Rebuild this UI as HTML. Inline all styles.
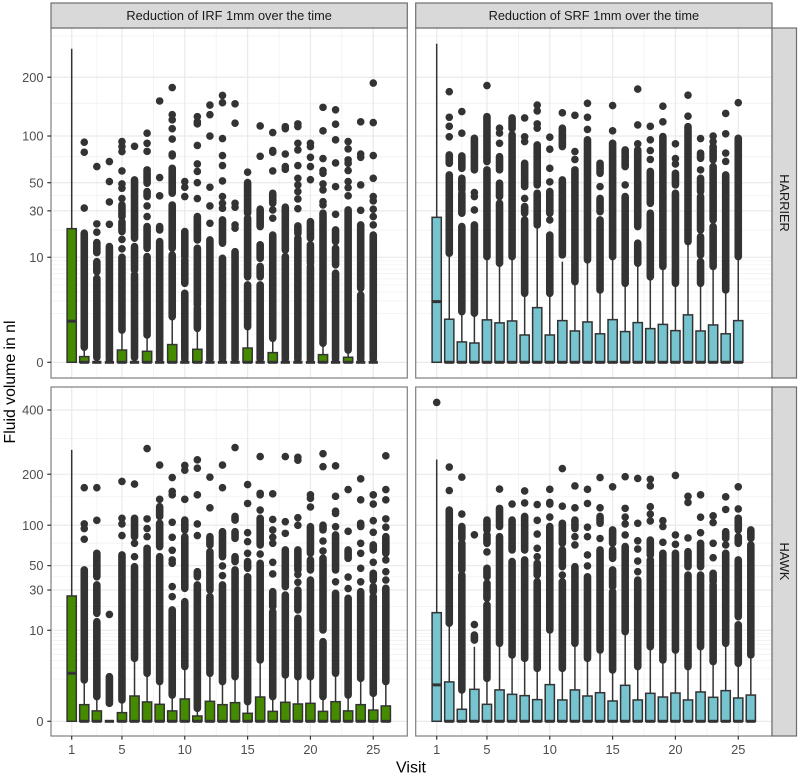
<!DOCTYPE html>
<html>
<head>
<meta charset="utf-8">
<title>Fluid volume boxplots</title>
<style>
html,body{margin:0;padding:0;background:#fff;}
svg{display:block;font-family:"Liberation Sans",sans-serif;}
</style>
</head>
<body>
<svg id="chart" width="798" height="773" viewBox="0 0 798 773" xmlns="http://www.w3.org/2000/svg"></svg>
<script>
// Tick labels and grid values
const yTicks = [0, 10, 30, 50, 100, 200, 400];
const yMinorGrid = [1, 2, 3, 4, 5, 6, 7, 8, 9, 20, 40, 75, 150, 300];
const xTicks = [1, 5, 10, 15, 20, 25];
const xMinorGrid = [3, 7.5, 12.5, 17.5, 22.5];

// IRF / HARRIER, visits 1-25. Outliers: number = one dot, [hi, lo] = dense overplotted band
const irfHarrierQ3 = [20.6,.0016,0,0,.016,0,.0115,0,.048,0,.019,0,0,0,.025,0,.0078,0,0,0,.0039,0,.0011,0,0];
const irfHarrierMedian = [.6,0,0,0,0,0,0,0,0,0,0,0,0,0,0,0,0,0,0,0,0,0,0,0,0];
const irfHarrierWhisker = [266,.03,0,0,.29,0,.176,0,.82,0,.34,0,0,0,.39,0,.12,0,0,0,.06,0,.016,0,0];
const irfHarrierOutliers = [
[],
[92,80,31.7,[18.6,.03]],
[64.7,22.9,19,[14.8,11.4],[8.8,6.4],[5.1,.001]],
[69.8,51,35.6,22.7,[13.4,.0003]],
[92.8,86.7,80.8,60.5,49,45.5,37.9,[33.6,26.7],[24,19.3],16,12.6,[10,.29]],
[87,[52.4,16.5],[13.4,6.8],[5.8,.001]],
[103.8,90.7,81,[61.5,49.6],[43,39.3],33,26.7,[21.6,12.8],[10.2,.176]],
[154,54.4,39.8,[21.6,20],[15.2,.0003]],
[179,131,123,110,96,78,76,[63,41.7],[33.6,12.8],[10.7,.82]],
[51,46.3,39.3,[19.3,10.2],[9.3,4.26],[2.84,.0003]],
[128,120,117,88,67.4,60,50,37.9,[26.7,15.8],[12.8,1.63],[1.36,.34]],
[147,131,100,46.3,33,23.2,[15.8,.0003]],
[164,151,96.7,76.3,65.7,51.5,39.3,34.7,31.5,[24.9,14.6],[9.7,.0003]],
[149,118,34.7,32.2,22.4,20.8,[11.7,.0003]],
[59.3,[50.1,28.6],[25.8,5.4],[4,.39]],
[114,75.5,[31,21.6],[14,9.7],[7.6,5.4],[4,.0003]],
[104.6,81.9,80,60.5,[41.7,34.7],30.5,25.8,[17.8,.12]],
[113,110,78,64.7,62,[32.2,12.2],[10.2,.0003]],
[117,113,90.7,82.7,65.7,53.8,48.2,43,37.6,31.3,[21.9,18.5],[16.5,.0003]],
[90.7,86.7,74.4,64.7,52.6,[24,16.5],[14,8.4],[7.6,.0003]],
[143,107,73,60.8,58.3,49,44.2,35.8,33.6,[28.6,.06]],
[139,116.5,95,68.4,46.8,28,[20,15.2],[12.8,8],[6.1,.0003]],
[92.8,83.9,71.6,68,60.8,51,46,39.8,[30.5,.016]],
[120,78,74.4,48.2,30.3,[22.4,3.5],[2.64,.0003]],
[188,119,76.3,53.8,39.3,36.3,31,26.7,22.4,[17.8,.0003]]
];

// SRF / HARRIER, visits 1-25
const srfHarrierQ3 = [26.3,.69,.073,.062,.66,.53,.61,.176,1.41,.176,.625,.266,.567,.2,.67,.25,.54,.33,.47,.274,.92,.266,.45,.2,.625];
const srfHarrierMedian = [1.93,0,0,0,0,0,0,0,0,0,0,0,0,0,0,0,0,0,0,0,0,0,0,0,0];
const srfHarrierWhisker = [279,11.2,1.12,1.02,10.2,8.4,10.2,2.84,22.4,2.84,8.8,4.53,9.3,3.27,10.2,4.26,8.4,5.4,7.6,4.26,15.2,4.26,7.6,3.27,10.2];
const srfHarrierOutliers = [
[],
[171,127,113.5,99,[77,68],[56.8,11.2]],
[136,103.8,[75.9,63],[53.8,44.2],[41.7,28.6],[21.6,1.12]],
[[97,61.5],42.2,39.3,30.5,[22.4,1.02]],
[183,[128,69.8],[61.5,10.2]],
[110.7,104,90.7,[75,61.5],[49.6,39.3],[34.7,8.4]],
[[126,110],[101.6,10.2]],
[126,99,92.8,[68,46.8],38,[32.6,28.6],[24.9,2.84]],
[147,137,117,110.7,[88.7,48.2],[41.7,22.4]],
[98.4,83.5,63,50.7,[43,28.6],24.9,[17.8,2.84]],
[134,[110.7,86.7],[52.4,10.7]],
[130,80.8,72,[61.5,4.53]],
[150,127,109,[95,9.3]],
[[68,58.3],46.8,[38,29.5],[24.9,3.27]],
[146,107,[90.7,10.2]],
[[82.7,64.7],48.2,[39.3,4.26]],
[176,115.5,90,[82.7,21.6],[14.6,8.4]],
[113.5,95,82,72,[60,34.7],[28.6,5.4]],
[145,120,[99.3,7.6]],
[90,73,67.4,[58.3,48.2],[41.7,4.26]],
[164.5,128.6,[113,15.2]],
[96.7,[79,73.3],61.5,[53.8,43],[39.3,20],[17.1,10.7],[8.8,4.26]],
[100,92.8,[86.7,71.6],[64.7,24.9],[21.6,7.6]],
[133,103,79,70,[56.8,3.27]],
[151,[97,10.2]]
];

// IRF / HAWK, visits 1-26
const irfHawkQ3 = [26.1,.061,.015,0,.0086,.215,.096,.065,.015,.148,.002,.106,.061,.086,.0068,.19,.013,.091,.069,.077,.013,.1,.015,.061,.019,.048];
const irfHawkMedian = [1.47,0,0,0,0,0,0,0,0,0,0,0,0,0,0,0,0,0,0,0,0,0,0,0,0,0];
const irfHawkWhisker = [265,.94,.2,0,.13,3.31,1.47,.83,.24,2.17,.029,1.47,.83,1.18,.1,3.06,.2,1.32,1.18,1.18,.2,1.47,.24,1.05,.29,.83];
const irfHawkOutliers = [
[],
[169,102,95,80,[46,.94]],
[169,107.6,[62.9,40],[33.6,16.7],[13.1,.2]],
[16.2,[1.18,.077]],
[183,111,102,84.9,[61,.13]],
[177,[111,83.5],74.8,59.2,[49,3.31]],
[269,110,95,83.5,[68.6,1.47]],
[223,145,[131,114],[103,70.6],[59.2,.83]],
[192,161,154,104.5,82.6,66.3,55.7,52.3,32.4,25.7,[18.3,.24]],
[222,210,145,[108,93],[83.5,31.2],[22.7,2.17]],
[237,215,154,102,85,[44.4,40],[33.6,.029]],
[193,129,[83.5,72.7],[64.7,30],[25.7,1.47]],
[223,169,[90.4,59.2],49.7,41,[33.6,.83]],
[272,[114,108],[90.4,81.2],[59.2,54],[46,1.18]],
[176,137,89,76.9,62.9,[54,47.5],[40,.1]],
[246,[157,154],125,[111,72.7],62,[52.3,3.06]],
[156,109,93,82.6,74.8,53.3,42.4,[28.9,20],[17.5,.2]],
[246,105.5,88,[66.7,32.4],[26.7,1.32]],
[244,236,112,99.8,[66.7,46],42,35.6,[30,18.3],[14.5,1.18]],
[154,147,130.5,[97.8,62.9],[55.7,46],[37.4,1.18]],
[254,219,[100,93],77.7,65.5,[57.4,10.1],[6.7,.2]],
[221,151,123,119,97.8,[85.8,46],36,[27.8,1.47]],
[165,90.9,[66.7,57.4],39.8,31,[24.7,.24]],
[189,144,[103,98],74.8,62.9,47.5,36,[28.9,1.05]],
[154,136,107,89.5,[72.7,66.7],53.3,[43,37.4],[32.4,28.9],[25.7,.29]],
[248,165,144,110,97,[83.5,62.9],55.7,44.4,37.4,[31.2,.83]]
];

// SRF / HAWK, visits 1-26
const srfHawkQ3 = [17,.81,.023,.434,.065,.41,.26,.224,.135,.654,.129,.41,.215,.31,.111,.618,.129,.29,.19,.3,.129,.335,.183,.382,.168,.24];
const srfHawkMedian = [.64,0,0,0,0,0,0,0,0,0,0,0,0,0,0,0,0,0,0,0,0,0,0,0,0,0];
const srfHawkWhisker = [238,12.5,.41,5.5,1.05,6.3,3.87,3.31,1.97,10.1,1.97,6.3,3.31,4.8,1.8,9.56,2.17,5.5,3.06,4.8,2.17,5.5,2.82,6.3,2.59,3.87];
const srfHawkOutliers = [
[430],
[218,163,[125,12.5]],
[193,118,[98,81],[74.8,46],[41.5,.41]],
[86,12,[8.5,7.1]],
[[108,93],[85.8,74.8],64.4,[47.5,40],[34.8,24.7],[20.9,1.05]],
[166,[128,98],[83.5,6.3]],
[136,[108,66.7],[54,3.87]],
[162,138,[114,66.7],[55.7,3.31]],
[135,107.6,87,68.6,59.2,[52.3,41.5],[36.1,1.97]],
[165.5,[139,136],113,[98,10.1]],
[214,132,[103,74.8],[66.7,49],41.5,[36,1.97]],
[173,129,[108,95],83.5,72.7,[49,6.3]],
[165.5,137,97,83.5,61,49.7,[40,3.31]],
[192,129,[114,103],81,[66.7,4.8]],
[171,[93,74.8],[66.7,57.4],[46,32.4],[28.9,1.8]],
[194,128,113,102,85.8,[70.7,9.56]],
[190,103,78,67.8,54.6,44.4,[37.4,2.17]],
[188,173,131,118,106.6,[79,61],[55.7,5.5]],
[107,98,76,[62.9,3.06]],
[197,85.8,73.5,[62.9,4.8]],
[151,139,81.7,[64.7,49],[41.5,2.17]],
[154,112.8,89,[74.8,49],[41.5,5.5]],
[115,104,74.8,58.1,[43,36],[33.6,2.82]],
[150,126,[90.4,81.2],72.7,[62.9,6.3]],
[171,127,[111,93],[83.5,74.8],[55.7,15.2],[11.9,2.59]],
[[93,81.2],[72.7,3.87]]
];

const SVG_NS = 'http://www.w3.org/2000/svg';
const svg = document.getElementById('chart');

function add(parent, tag, attrs) {
  const el = document.createElementNS(SVG_NS, tag);
  for (const k in attrs) el.setAttribute(k, attrs[k]);
  parent.appendChild(el);
  return el;
}

function makeY(y0, k) {
  return function (v) { return y0 - k * Math.cbrt(v); };
}
function makeX(x1, step) {
  return function (visit) { return x1 + (visit - 1) * step; };
}

const STEP = 12.565;
const BOX_W = 9.2;
const DOT_R = 3.8;
const DARK = '#333333';

function drawPanel(cfg) {
  const x = makeX(cfg.x1, STEP);
  const y = makeY(cfg.y0, cfg.k);

  const g = add(svg, 'g', {});
  
  

  const bg = add(g, 'rect', { x: cfg.left, y: cfg.top, width: cfg.right - cfg.left, height: cfg.bottom - cfg.top, fill: '#ffffff' });
  
  

  const grid = add(g, 'g', {});
  
  

  yMinorGrid.forEach(function (v) {
    const py = y(v);
    if (py > cfg.top && py < cfg.bottom) {
      const l = add(grid, 'line', { x1: cfg.left, x2: cfg.right, y1: py, y2: py, stroke: '#EFEFEF', 'stroke-width': 0.7 });
      
      
    }
  });
  xMinorGrid.forEach(function (v) {
    const l = add(grid, 'line', { x1: x(v), x2: x(v), y1: cfg.top, y2: cfg.bottom, stroke: '#EFEFEF', 'stroke-width': 0.7 });
    
    
  });
  yTicks.forEach(function (v) {
    const py = y(v);
    if (py > cfg.top && py < cfg.bottom) {
      const l = add(grid, 'line', { x1: cfg.left, x2: cfg.right, y1: py, y2: py, stroke: '#EBEBEB', 'stroke-width': 1.3 });
      
      
    }
  });
  xTicks.forEach(function (v) {
    const l = add(grid, 'line', { x1: x(v), x2: x(v), y1: cfg.top, y2: cfg.bottom, stroke: '#EBEBEB', 'stroke-width': 1.3 });
    
    
  });

  cfg.q3.forEach(function (q3, i) {
    const visit = i + 1;
    const cx = x(visit);
    const bx = add(g, 'g', {});
    
    

    cfg.outliers[i].forEach(function (o) {
      if (Array.isArray(o)) {
        const band = add(bx, 'line', { x1: cx, x2: cx, y1: y(o[0]), y2: y(o[1]), stroke: DARK, 'stroke-width': DOT_R * 2, 'stroke-linecap': 'round' });
        
        
      } else {
        const dot = add(bx, 'circle', { cx: cx, cy: y(o), r: DOT_R, fill: DARK });
        
        
      }
    });

    const whisk = add(bx, 'line', { x1: cx, x2: cx, y1: y(q3), y2: y(cfg.whisker[i]), stroke: DARK, 'stroke-width': 1.5 });
    
    

    const rect = add(bx, 'rect', { x: cx - BOX_W / 2, y: y(q3), width: BOX_W, height: y(0) - y(q3), fill: cfg.fill, stroke: DARK, 'stroke-width': 1.5 });
    
    

    const med = add(bx, 'line', { x1: cx - BOX_W / 2, x2: cx + BOX_W / 2, y1: y(cfg.median[i]), y2: y(cfg.median[i]), stroke: DARK, 'stroke-width': 3 });
    
    
  });

  const border = add(g, 'rect', { x: cfg.left, y: cfg.top, width: cfg.right - cfg.left, height: cfg.bottom - cfg.top, fill: 'none', stroke: '#7F7F7F', 'stroke-width': 1.2 });
  
  

  if (cfg.showY) {
    yTicks.forEach(function (v) {
      const py = y(v);
      if (py > cfg.top && py < cfg.bottom) {
        const t = add(svg, 'line', { x1: cfg.left - 3.7, x2: cfg.left, y1: py, y2: py, stroke: '#333333', 'stroke-width': 1.2 });
        
        
        const lab = add(svg, 'text', { x: cfg.left - 7.5, y: py + 4.6, 'text-anchor': 'end', 'font-size': 12.8, fill: '#4D4D4D' });
        
        
        lab.textContent = v;
      }
    });
  }
  if (cfg.showX) {
    xTicks.forEach(function (v) {
      const t = add(svg, 'line', { x1: x(v), x2: x(v), y1: cfg.bottom, y2: cfg.bottom + 3.7, stroke: '#333333', 'stroke-width': 1.2 });
      
      
      const lab = add(svg, 'text', { x: x(v), y: cfg.bottom + 17.8, 'text-anchor': 'middle', 'font-size': 12.8, fill: '#4D4D4D' });
      
      
      lab.textContent = v;
    });
  }
}

const GREEN = '#458B00';
const TEAL = '#76C4CF';

drawPanel({ name: 'panel-irf-harrier', left: 51, right: 407.3, top: 28, bottom: 378, x1: 71.7, y0: 362.3, k: 48.75, fill: GREEN, q3: irfHarrierQ3, median: irfHarrierMedian, whisker: irfHarrierWhisker, outliers: irfHarrierOutliers, showY: true, showX: false });
drawPanel({ name: 'panel-srf-harrier', left: 415.7, right: 772, top: 28, bottom: 378, x1: 436.7, y0: 362.3, k: 48.75, fill: TEAL, q3: srfHarrierQ3, median: srfHarrierMedian, whisker: srfHarrierWhisker, outliers: srfHarrierOutliers, showY: false, showX: false });
drawPanel({ name: 'panel-irf-hawk', left: 51, right: 407.3, top: 387, bottom: 736, x1: 71.7, y0: 721.3, k: 42.25, fill: GREEN, q3: irfHawkQ3, median: irfHawkMedian, whisker: irfHawkWhisker, outliers: irfHawkOutliers, showY: true, showX: true });
drawPanel({ name: 'panel-srf-hawk', left: 415.7, right: 772, top: 387, bottom: 736, x1: 436.7, y0: 721.3, k: 42.25, fill: TEAL, q3: srfHawkQ3, median: srfHawkMedian, whisker: srfHawkWhisker, outliers: srfHawkOutliers, showY: false, showX: true });

function strip(name, x, y, w, h, label, rotate) {
  const r = add(svg, 'rect', { x: x, y: y, width: w, height: h, fill: '#D9D9D9', stroke: '#6E6E6E', 'stroke-width': 1.2 });
  
  
  const cx = x + w / 2;
  const cy = y + h / 2;
  const t = add(svg, 'text', { x: cx, y: cy, 'text-anchor': 'middle', 'dominant-baseline': 'central', 'font-size': 12.8, fill: '#1A1A1A' });
  if (rotate) t.setAttribute('transform', 'rotate(90 ' + cx + ' ' + cy + ')');
  
  
  t.textContent = label;
}
strip('strip-irf', 51, 3, 356.3, 25, 'Reduction of IRF 1mm over the time', false);
strip('strip-srf', 415.7, 3, 356.3, 25, 'Reduction of SRF 1mm over the time', false);
strip('strip-harrier', 772, 28, 24.5, 350, 'HARRIER', true);
strip('strip-hawk', 772, 387, 24.5, 349, 'HAWK', true);

const xTitle = add(svg, 'text', { x: 411, y: 772.3, 'text-anchor': 'middle', 'font-size': 16, fill: '#000000' });


xTitle.textContent = 'Visit';

const yTitle = add(svg, 'text', { x: 0, y: 0, 'text-anchor': 'middle', 'font-size': 15.8, fill: '#000000', transform: 'translate(15 382) rotate(-90)' });


yTitle.textContent = 'Fluid volume in nl';
</script>
</body>
</html>
